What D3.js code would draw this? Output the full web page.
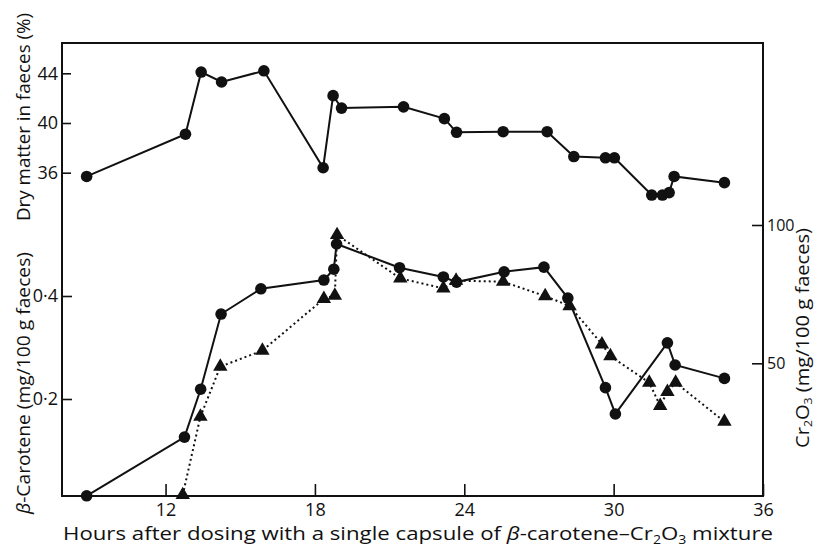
<!DOCTYPE html>
<html>
<head>
<meta charset="utf-8">
<script src="https://cdn.jsdelivr.net/npm/d3@7"></script>
<style>
  body { margin: 0; background: #fff; }
  text { font-family: "Open Sans", sans-serif; fill: #111; }
</style>
</head>
<body>
<div id="chart"></div>
<script>
// dry matter (%) - top panel, solid line + dots
var dryHours = [8.83, 12.80, 13.43, 14.25, 15.95, 18.33, 18.73, 19.07, 21.56, 23.20, 23.69,
  25.56, 27.33, 28.40, 29.67, 30.03, 31.53, 31.96, 32.23, 32.43, 34.45];
var dryValues = [35.7, 39.1, 44.1, 43.3, 44.2, 36.4, 42.2, 41.2, 41.3, 40.35, 39.25,
  39.3, 39.3, 37.3, 37.2, 37.2, 34.2, 34.2, 34.4, 35.7, 35.2];

// beta-carotene (mg/100 g) - solid line + dots
var carHours = [8.83, 12.76, 13.41, 14.23, 15.83, 18.36, 18.76, 18.87, 21.40, 23.16,
  23.69, 25.60, 27.20, 28.16, 29.67, 30.07, 32.16, 32.47, 34.45];
var carValues = [0.012, 0.126, 0.219, 0.365, 0.414, 0.431, 0.452, 0.501, 0.455, 0.437,
  0.427, 0.447, 0.456, 0.396, 0.222, 0.171, 0.309, 0.266, 0.240];

// Cr2O3 (mg/100 g) - dotted line + triangles
var crHours = [12.69, 13.40, 14.20, 15.89, 18.36, 18.80, 18.89, 21.43, 23.16, 23.67,
  25.56, 27.25, 28.23, 29.53, 29.87, 31.43, 31.87, 32.16, 32.49, 34.45];
var crValues = [2.4, 30.7, 48.8, 54.6, 73.3, 74.5, 96.4, 80.7, 77.1, 79.9,
  79.5, 74.3, 70.7, 56.9, 52.6, 43.0, 34.6, 39.7, 43.0, 28.9];

var hourTicks = [12, 18, 24, 30, 36];
var dryTicks = [36, 40, 44];
var carTicks = [0.2, 0.4];
var crTicks = [50, 100];

var width = 815, height = 548;
var plotL = 62, plotR = 763, plotT = 43, plotB = 496;

var svg = d3.select("#chart").append("svg")
  .attr("width", width)
  .attr("height", height);

var x = d3.scaleLinear().domain([7.84, 36]).range([plotL, plotR]);
var yDry = d3.scaleLinear().domain([36, 44]).range([172.7, 73.3]);
var yCar = d3.scaleLinear().domain([0, 0.4]).range([502, 296]);
var yCr = d3.scaleLinear().domain([0, 100]).range([501.6, 225]);

function zip(xs, ys) {
  return xs.map(function (h, i) { return { h: h, v: ys[i] }; });
}

// frame
svg.append("rect")
  .attr("x", plotL).attr("y", plotT)
  .attr("width", plotR - plotL).attr("height", plotB - plotT)
  .attr("fill", "none").attr("stroke", "#111").attr("stroke-width", 2);

// axes
var fontSize = "18px";

var xAxis = svg.append("g")
  .attr("transform", "translate(0," + plotB + ")")
  .call(d3.axisBottom(x).tickValues(hourTicks).tickSize(-12).tickPadding(7));

var dryAxis = svg.append("g")
  .attr("transform", "translate(" + plotL + ",0)")
  .call(d3.axisLeft(yDry).tickValues(dryTicks).tickSize(-9).tickPadding(4));

var carAxis = svg.append("g")
  .attr("transform", "translate(" + plotL + ",0)")
  .call(d3.axisLeft(yCar).tickValues(carTicks).tickSize(-10).tickPadding(4)
    .tickFormat(function (d) { return d3.format(".1f")(d).replace(".", "·"); }));

var crAxis = svg.append("g")
  .attr("transform", "translate(" + plotR + ",0)")
  .call(d3.axisRight(yCr).tickValues(crTicks).tickSize(-11).tickPadding(4));

[xAxis, dryAxis, carAxis, crAxis].forEach(function (g) {
  g.select(".domain").remove();
  g.selectAll("line").attr("stroke", "#111").attr("stroke-width", 1.6);
  g.selectAll("text")
    .attr("font-family", "'Open Sans', sans-serif")
    .style("font-size", fontSize)
    .attr("fill", "#111");
});
// right axis uses a smaller, narrower face
crAxis.selectAll("text")
  .attr("font-family", "'Liberation Sans', sans-serif")
  .style("font-size", "16px");

// lines
var dryLine = d3.line().x(function (d) { return x(d.h); }).y(function (d) { return yDry(d.v); });
var carLine = d3.line().x(function (d) { return x(d.h); }).y(function (d) { return yCar(d.v); });
var crLine = d3.line().x(function (d) { return x(d.h); }).y(function (d) { return yCr(d.v); });

var dryData = zip(dryHours, dryValues);
var carData = zip(carHours, carValues);
var crData = zip(crHours, crValues);

svg.append("path")
  .attr("d", crLine(crData))
  .attr("fill", "none").attr("stroke", "#111")
  .attr("stroke-width", 2).attr("stroke-dasharray", "2,3");

svg.append("path")
  .attr("d", dryLine(dryData))
  .attr("fill", "none").attr("stroke", "#111").attr("stroke-width", 2);

svg.append("path")
  .attr("d", carLine(carData))
  .attr("fill", "none").attr("stroke", "#111").attr("stroke-width", 2);

// markers
svg.selectAll(".tri")
  .data(crData)
  .enter()
    .append("path")
    .attr("class", "tri")
    .attr("d", d3.symbol().type(d3.symbolTriangle).size(90))
    .attr("transform", function (d) { return "translate(" + x(d.h) + "," + yCr(d.v) + ")"; })
    .attr("fill", "#111");

svg.selectAll(".dry")
  .data(dryData)
  .enter()
    .append("circle")
    .attr("class", "dry")
    .attr("cx", function (d) { return x(d.h); })
    .attr("cy", function (d) { return yDry(d.v); })
    .attr("r", 5.8)
    .attr("fill", "#111");

svg.selectAll(".car")
  .data(carData)
  .enter()
    .append("circle")
    .attr("class", "car")
    .attr("cx", function (d) { return x(d.h); })
    .attr("cy", function (d) { return yCar(d.v); })
    .attr("r", 5.8)
    .attr("fill", "#111");

// subscript helper: shift down, then back up
function sub(t, s, size, shift) {
  shift = shift || 4;
  t.append("tspan").attr("dy", shift).style("font-size", size || "12px").text(s);
  return t.append("tspan").attr("dy", -shift);
}

// axis titles
svg.append("text")
  .attr("transform", "translate(30,117) rotate(-90)")
  .attr("text-anchor", "middle")
  .attr("textLength", 208).attr("lengthAdjust", "spacingAndGlyphs")
  .style("font-size", fontSize)
  .text("Dry matter in faeces (%)");

var carTitle = svg.append("text")
  .attr("transform", "translate(30,383) rotate(-90)")
  .attr("text-anchor", "middle")
  .attr("textLength", 262).attr("lengthAdjust", "spacingAndGlyphs")
  .style("font-size", fontSize);
carTitle.append("tspan").attr("font-style", "italic").text("β");
carTitle.append("tspan").text("-Carotene (mg/100 g faeces)");

var crTitle = svg.append("text")
  .attr("transform", "translate(809,338) rotate(-90)")
  .attr("text-anchor", "middle")
  .attr("textLength", 220).attr("lengthAdjust", "spacingAndGlyphs")
  .attr("font-family", "'Liberation Sans', sans-serif")
  .style("font-size", "18px");
crTitle.append("tspan").text("Cr");
sub(crTitle, "2", "11px", 3).text("O");
sub(crTitle, "3", "11px", 3).text(" (mg/100 g faeces)");

var xTitle = svg.append("text")
  .attr("x", 418).attr("y", 540)
  .attr("text-anchor", "middle")
  .attr("textLength", 710).attr("lengthAdjust", "spacingAndGlyphs")
  .style("font-size", "19px");
xTitle.append("tspan").text("Hours after dosing with a single capsule of ");
xTitle.append("tspan").attr("font-style", "italic").text("β");
xTitle.append("tspan").text("-carotene–Cr");
sub(xTitle, "2").text("O");
sub(xTitle, "3").text(" mixture");
</script>
</body>
</html>
